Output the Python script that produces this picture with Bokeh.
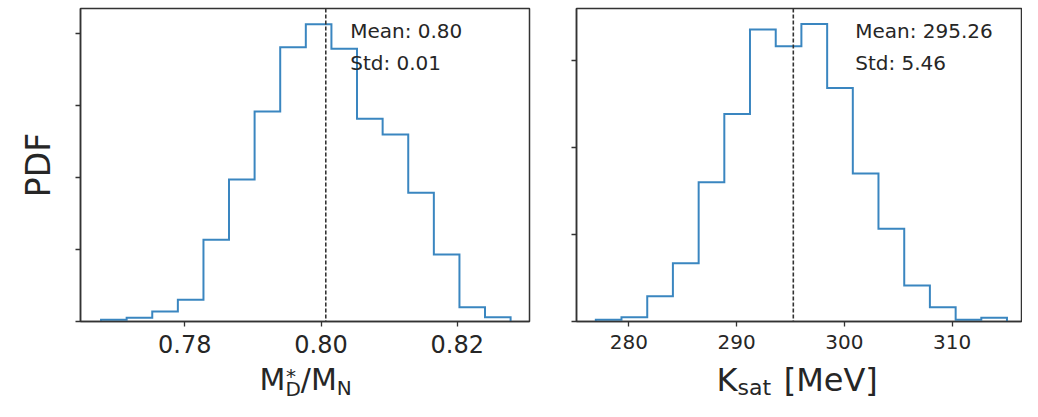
import numpy as np
from bokeh.plotting import figure
from bokeh.models import Span, Label, FixedTicker, Range1d, NumeralTickFormatter, CustomJSTickFormatter
from bokeh.layouts import row, column
from bokeh.core.properties import value
from bokeh.embed import file_html
from bokeh.resources import INLINE

# ---------------- data: left panel (M*_D / M_N) ----------------
m_edges = [0.76770, 0.77146, 0.77522, 0.77898, 0.78274, 0.78649, 0.79025, 0.79401,
           0.79777, 0.80153, 0.80529, 0.80905, 0.81281, 0.81657, 0.82033, 0.82408, 0.82784]
m_density = [0.24, 0.51, 1.39, 3.01, 11.35, 19.72, 29.17, 38.10,
             41.30, 37.88, 28.15, 25.97, 17.88, 9.31, 1.99, 0.60]
m_mean = 0.8007
m_stats = ["Mean: 0.80", "Std: 0.01"]
m_xticks = [0.78, 0.80, 0.82]
m_yticks = [0, 10, 20, 30, 40]

# ---------------- data: right panel (K_sat) ----------------
k_edges = [276.94, 279.32, 281.71, 284.09, 286.48, 288.86, 291.24, 293.63,
           296.01, 298.40, 300.78, 303.16, 305.55, 307.93, 310.32, 312.70, 315.08]
k_density = [0.00039, 0.00099, 0.00582, 0.0134, 0.0320, 0.0477, 0.0671, 0.0633,
             0.0684, 0.0537, 0.0340, 0.0213, 0.00828, 0.00329, 0.00039, 0.00085]
k_mean = 295.26
k_stats = ["Mean: 295.26", "Std: 5.46"]
k_xticks = [280, 290, 300, 310]
k_yticks = [0, 0.02, 0.04, 0.06]

y_label = "PDF"

FONT = "DejaVu Sans"
INK = "#262626"
HIST = "#3a86c0"
FRAME = "#333333"

TOP = 8          # frame top (px)
FRAME_H = 313    # frame height (px)
BOTTOM = 41      # space for tick labels
PANEL_H = TOP + FRAME_H + BOTTOM   # 362
STRIP_H = 401 - PANEL_H            # 39
BASE_FIX = 0.4   # empirical baseline correction (fraction of font size)


def frame_label(p, frame_left, frame_bottom, px, py, text, size):
    py = py - BASE_FIX * size
    p.add_layout(Label(x=p.x_range.start, y=p.y_range.start,
                       x_offset=px - frame_left, y_offset=frame_bottom - py,
                       text=text, text_font=FONT, text_font_size=f"{size}px",
                       text_color=INK, text_align="left", text_baseline="alphabetic"))


def make_panel(width, bl, br, xr, yr, edges, density, mean, xticks, yticks, xfmt, tick_size):
    p = figure(width=width, height=PANEL_H, x_range=Range1d(*xr), y_range=Range1d(*yr),
               output_backend="svg", toolbar_location=None,
               min_border_left=bl, min_border_right=br, min_border_top=TOP,
               min_border_bottom=BOTTOM)
    p.grid.visible = False
    p.background_fill_color = "white"
    p.border_fill_color = "white"
    p.outline_line_color = FRAME
    p.outline_line_width = 1.5
    p.outline_line_alpha = 1.0

    xs = np.repeat(np.asarray(edges, dtype=float), 2)
    ys = np.concatenate([[0.0], np.repeat(np.asarray(density, dtype=float), 2), [0.0]])
    p.line(xs, ys, line_color=HIST, line_width=2, line_join="miter")
    p.add_layout(Span(location=mean, dimension="height", line_color=FRAME,
                      line_width=1.6, line_dash="4 2"))

    for ax in (p.xaxis[0], p.yaxis[0]):
        ax.axis_line_color = FRAME
        ax.axis_line_width = 1.5
        ax.major_tick_line_color = FRAME
        ax.major_tick_line_width = 1.3
        ax.major_tick_out = 5
        ax.major_tick_in = 0
        ax.minor_tick_line_color = None
    p.xaxis.ticker = FixedTicker(ticks=xticks)
    p.xaxis.formatter = xfmt
    p.xaxis.major_label_text_font = FONT
    p.xaxis.major_label_text_font_size = f"{tick_size}px"
    p.xaxis.major_label_text_color = INK
    p.xaxis.major_label_standoff = 8
    p.yaxis.ticker = FixedTicker(ticks=yticks)
    p.yaxis.formatter = CustomJSTickFormatter(code="return ''")
    return p


def make_strip(width, frame_x0, frame_x1):
    # the strip's frame is aligned with the panel frame above it (page x coords)
    s = figure(width=width, height=STRIP_H, x_range=Range1d(frame_x0, frame_x1),
               y_range=Range1d(401, PANEL_H), x_axis_type=None, y_axis_type=None,
               output_backend="svg", toolbar_location=None, min_border=0,
               outline_line_color=None)
    s.background_fill_color = "white"
    s.border_fill_color = "white"
    return s


def strip_text(s, px, py, text, size):
    s.text(x=[px], y=[py - BASE_FIX * size], text=[text], text_font=value(FONT),
           text_font_size=value(f"{size}px"), text_color=INK,
           text_align="left", text_baseline="alphabetic")


# ---------------- left panel: frame x 80..529 ----------------
W1 = 80 + 449 + 24
p1 = make_panel(W1, 80, 24, (0.764684, 0.830616), (0, FRAME_H / 7.2),
                m_edges, m_density, m_mean, m_xticks, m_yticks,
                NumeralTickFormatter(format="0.00"), 24)
p1.yaxis.axis_label = y_label
p1.yaxis.axis_label_text_font = FONT
p1.yaxis.axis_label_text_font_size = "33px"
p1.yaxis.axis_label_text_font_style = "normal"
p1.yaxis.axis_label_text_color = INK
p1.yaxis.axis_label_standoff = 18
frame_label(p1, 80, 321, 349.7, 38.3, m_stats[0], 20)
frame_label(p1, 80, 321, 349.7, 70.0, m_stats[1], 20)

s1 = make_strip(W1, 80, 529)
# x label: M*_D / M_N
strip_text(s1, 259.0, 390.5, "M", 30)
strip_text(s1, 285.5, 383.0, "*", 20)
strip_text(s1, 284.9, 396.0, "D", 20)
strip_text(s1, 300.3, 390.5, "/", 30)
strip_text(s1, 310.4, 390.5, "M", 30)
strip_text(s1, 336.3, 395.5, "N", 20)

# ---------------- right panel: frame x 576..1021 ----------------
W2 = 23 + 445 + 1
p2 = make_panel(W2, 23, 1, (275.148, 275.148 + 445 / 10.78), (0, FRAME_H / 87 * 0.02),
                k_edges, k_density, k_mean, k_xticks, k_yticks,
                NumeralTickFormatter(format="0"), 20)
frame_label(p2, 576, 321, 854.7, 38.3, k_stats[0], 20)
frame_label(p2, 576, 321, 854.7, 70.0, k_stats[1], 20)

s2 = make_strip(W2, 576, 1021)
# x label: K_sat [MeV]
strip_text(s2, 716.0, 392.0, "K", 32)
strip_text(s2, 737.0, 395.5, "sat", 22)
strip_text(s2, 783.2, 392.0, "[MeV]", 32)

layout = row(column(p1, s1), column(p2, s2))
open("out.html", "w").write(file_html(layout, INLINE))
